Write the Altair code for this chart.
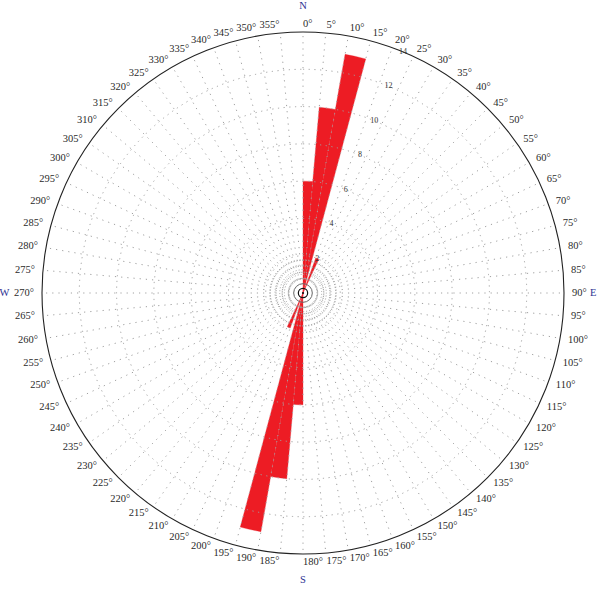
import math
import altair as alt
import pandas as pd

# Rose diagram of orientations, 5-degree sectors (axial data, mirrored at +180)
sector_start = [0, 5, 10, 20, 180, 185, 190, 200]
sector_end = [5, 10, 15, 25, 185, 190, 195, 205]
sector_count = [6, 10, 13, 2, 6, 10, 13, 2]

ring_values = [2, 4, 6, 8, 10, 12]
ring_labels = [2, 4, 6, 8, 10, 12, 14]
inner_rings = [0.75, 1.0, 1.25, 1.5, 1.75]
angle_ticks = list(range(0, 360, 5))
compass_letters = ["N", "E", "S", "W"]
compass_angles = [0, 90, 180, 270]

R_MAX = 14
SIZE = 522  # plot diameter in px
FULL = 2 * math.pi + 0.001

sectors = pd.DataFrame({"start": sector_start, "end": sector_end, "count": sector_count})
rings = pd.DataFrame({"r": ring_values})
inner = pd.DataFrame({"r": inner_rings})
ticks = pd.DataFrame({"angle": angle_ticks})
ring_lab = pd.DataFrame({"value": ring_labels})
compass = pd.DataFrame({"letter": compass_letters, "angle": compass_angles})

r_scale = alt.Scale(type="linear", domain=[0, R_MAX], range=[0, SIZE / 2], zero=True, nice=False)
t_scale = alt.Scale(type="linear", domain=[0, 360], range=[0, 2 * math.pi], nice=False)
x_scale = alt.Scale(domain=[-R_MAX, R_MAX], nice=False, zero=False)
y_scale = alt.Scale(domain=[-R_MAX, R_MAX], nice=False, zero=False)

serif = "Liberation Serif"
red = "#ED1C24"
grid_gray = "#a0a0a0"

bars = alt.Chart(sectors).mark_arc(color=red, stroke=red, strokeWidth=0.3).encode(
    theta=alt.Theta("start:Q", scale=t_scale, stack=False),
    theta2="end:Q",
    radius=alt.Radius("count:Q", scale=r_scale, stack=False),
)


def ring_layer(df, stroke, width, dash=None):
    kw = dict(theta=0, theta2=FULL, fill="white", fillOpacity=0, stroke=stroke, strokeWidth=width)
    if dash:
        kw["strokeDash"] = dash
    return alt.Chart(df).mark_arc(**kw).encode(
        radius=alt.Radius("r:Q", scale=r_scale, stack=False)
    )


grid_rings = ring_layer(rings, grid_gray, 1, [1.2, 4.5])
small_rings = ring_layer(inner, grid_gray, 1, [1, 2])
hub_gray = ring_layer(pd.DataFrame({"r": [0.5]}), "#666666", 1)
hub_black = ring_layer(pd.DataFrame({"r": [0.25]}), "#111111", 1.2)
outer = ring_layer(pd.DataFrame({"r": [R_MAX]}), "#222222", 1.1)

hub_dot = alt.Chart(pd.DataFrame({"r": [0.06]})).mark_arc(
    theta=0, theta2=FULL, color="#111111",
).encode(radius=alt.Radius("r:Q", scale=r_scale, stack=False))

spokes = alt.Chart(ticks).transform_calculate(
    rad="datum.angle * PI / 180",
    x0="0.75 * sin(datum.rad)", y0="0.75 * cos(datum.rad)",
    x1=f"{R_MAX} * sin(datum.rad)", y1=f"{R_MAX} * cos(datum.rad)",
).mark_rule(color=grid_gray, strokeWidth=1, strokeDash=[1.2, 5]).encode(
    x=alt.X("x0:Q", scale=x_scale, axis=None),
    y=alt.Y("y0:Q", scale=y_scale, axis=None),
    x2="x1:Q",
    y2="y1:Q",
)

LABEL_R = 14.43


def degree_labels(cond, align):
    return alt.Chart(ticks).transform_filter(cond).transform_calculate(
        rad="datum.angle * PI / 180",
        lx=f"{LABEL_R} * sin(datum.rad)", ly=f"{LABEL_R} * cos(datum.rad)",
        txt="datum.angle + '°'",
    ).mark_text(font=serif, fontSize=10.5, color="#2a2a2a", align=align, baseline="middle").encode(
        x=alt.X("lx:Q", scale=x_scale, axis=None),
        y=alt.Y("ly:Q", scale=y_scale, axis=None),
        text="txt:N",
    )


labels_right = degree_labels("datum.angle <= 180", "left")
labels_left = degree_labels("datum.angle > 180", "right")

ring_text = alt.Chart(ring_lab).transform_calculate(
    rad="22.5 * PI / 180",
    lx="datum.value * sin(datum.rad)", ly="datum.value * cos(datum.rad)",
).mark_text(font=serif, fontSize=8, color="#333333", align="center", baseline="middle").encode(
    x=alt.X("lx:Q", scale=x_scale, axis=None),
    y=alt.Y("ly:Q", scale=y_scale, axis=None),
    text="value:Q",
)


def compass_layer(cond, r, align):
    return alt.Chart(compass).transform_filter(cond).transform_calculate(
        rad="datum.angle * PI / 180",
        lx=f"{r} * sin(datum.rad)", ly=f"{r} * cos(datum.rad)",
    ).mark_text(font=serif, fontSize=10.5, color="#2e3192", align=align, baseline="middle").encode(
        x=alt.X("lx:Q", scale=x_scale, axis=None),
        y=alt.Y("ly:Q", scale=y_scale, axis=None),
        text="letter:N",
    )


compass_ns = compass_layer("datum.angle == 0 || datum.angle == 180", 15.4, "center")
compass_e = compass_layer("datum.angle == 90", 15.4, "left")
compass_w = compass_layer("datum.angle == 270", 15.75, "right")

chart = alt.layer(
    bars, grid_rings, small_rings, spokes, hub_gray, hub_black, hub_dot, outer,
    labels_right, labels_left, ring_text, compass_ns, compass_e, compass_w,
).properties(
    width=SIZE,
    height=SIZE,
    autosize=alt.AutoSizeParams(type="none"),
    padding={"left": 42, "top": 32, "right": 36, "bottom": 36},
    background="white",
).configure_view(strokeWidth=0)

chart.save("out.html", embed_options={"renderer": "svg", "actions": False})
